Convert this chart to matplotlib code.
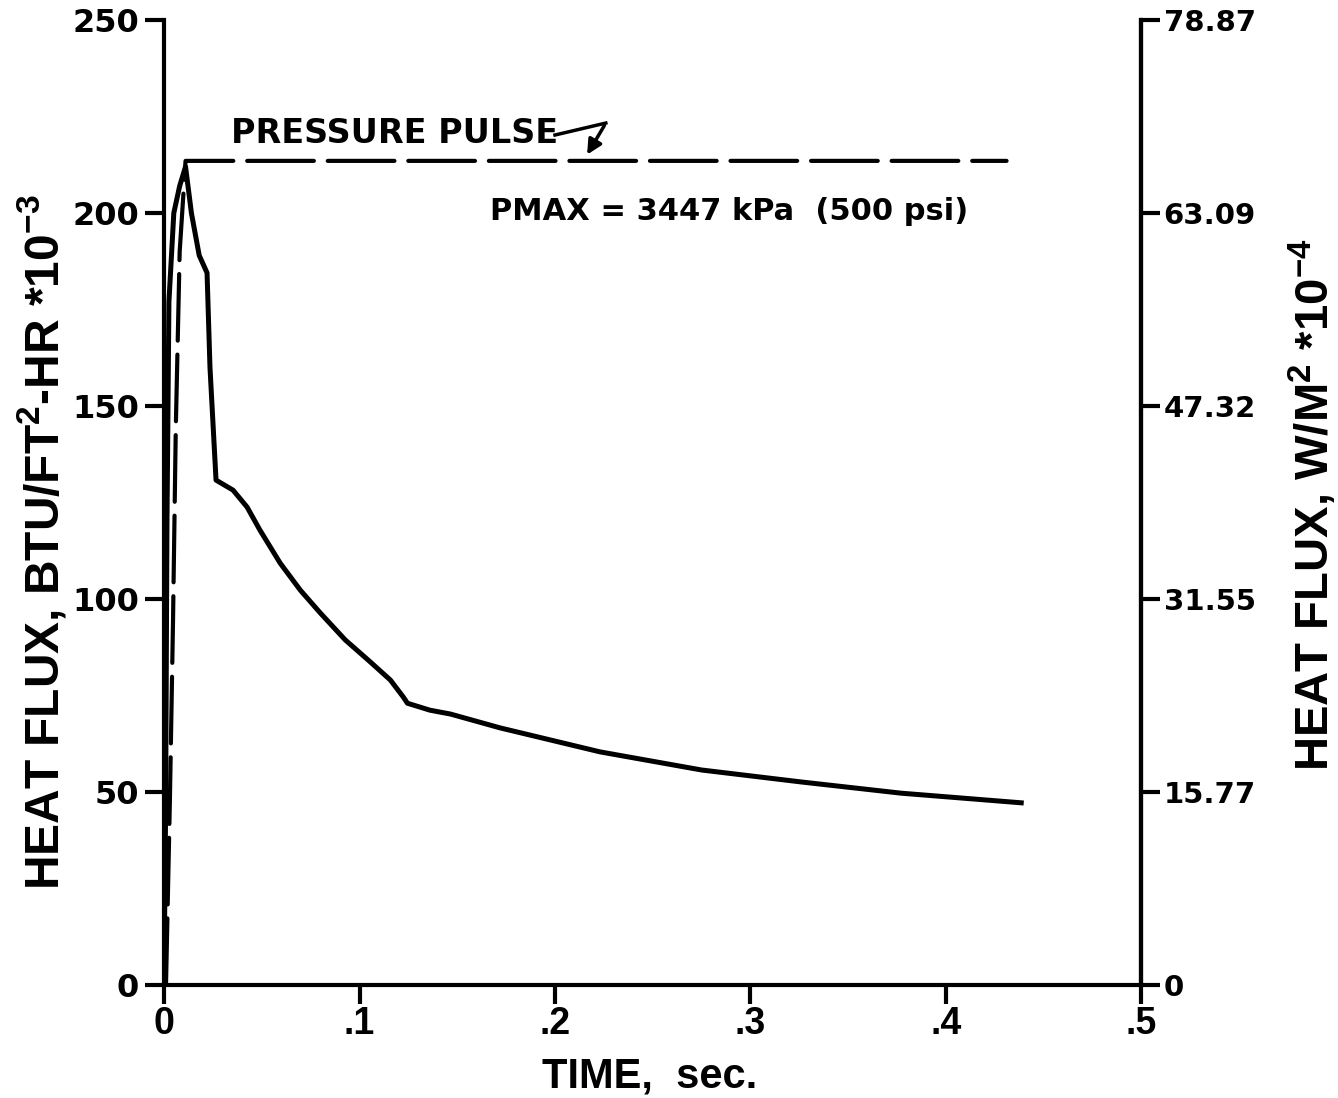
import matplotlib.pyplot as plt
import numpy as np

plt.rcParams['font.family'] = ['DejaVu Sans']
plt.rcParams['font.weight'] = 'bold'
plt.rcParams['mathtext.fontset'] = 'custom'
plt.rcParams['mathtext.rm'] = 'Liberation Sans:bold'
plt.rcParams['mathtext.bf'] = 'Liberation Sans:bold'
plt.rcParams['mathtext.it'] = 'Liberation Sans:bold'
plt.rcParams['lines.scale_dashes'] = False

# heat flux curve, BTU/FT2-HR *10^-3
t_flux = [0.0, 0.0008, 0.0015, 0.0025, 0.005, 0.008, 0.011, 0.014, 0.018, 0.022,
          0.0235, 0.0266, 0.0353, 0.0425, 0.049, 0.0594, 0.0697, 0.0799, 0.0927,
          0.1055, 0.1158, 0.1224, 0.1245, 0.136, 0.1465, 0.172, 0.223, 0.275,
          0.326, 0.377, 0.4385]
flux = [0, 45, 120, 177, 200, 207, 212, 200, 189, 184.5,
        160, 130.8, 128.2, 123.8, 117.9, 109.3, 102.3, 96.4, 89.4,
        83.7, 79, 74.6, 73, 71.2, 70.2, 66.6, 60.4, 55.7,
        52.6, 49.7, 47.2]

# pressure pulse trace (same scale)
t_press = [0.001, 0.003, 0.0046, 0.006, 0.008, 0.011, 0.431]
press = [0, 48, 94.5, 144, 190, 213.5, 213.5]

yticks = [0, 50, 100, 150, 200, 250]
yticklabels = ['0', '50', '100', '150', '200', '250']
right_labels = ['0', '15.77', '31.55', '47.32', '63.09', '78.87']
xticks = [0, 0.1, 0.2, 0.3, 0.4, 0.5]
xticklabels = ['0', '.1', '.2', '.3', '.4', '.5']

fig = plt.figure(figsize=(13.38, 10.98), dpi=100)
ax = fig.add_axes([0.1226, 0.1029, 0.7305, 0.8789])

ax.plot(t_flux, flux, color='black', lw=3.6, solid_joinstyle='round')
ax.plot(t_press, press, color='black', lw=3.0, dashes=(48, 10), dash_capstyle='round')

ax.set_xlim(0, 0.5)
ax.set_ylim(0, 250)
ax.spines['top'].set_visible(False)
for s in ['left', 'bottom', 'right']:
    ax.spines[s].set_linewidth(3)
ax.set_xticks(xticks)
ax.set_xticklabels(xticklabels, fontfamily='Liberation Sans', fontsize=27)
ax.set_yticks(yticks)
ax.set_yticklabels(yticklabels)
ax.tick_params(axis='both', direction='out', length=14, width=3, labelsize=23, pad=4)
ax.tick_params(axis='x', pad=1, labelsize=27)

ax2 = ax.twinx()
ax2.set_ylim(0, 250)
ax2.set_yticks(yticks)
ax2.set_yticklabels(right_labels)
ax2.spines['top'].set_visible(False)
ax2.spines['right'].set_linewidth(3)
ax2.tick_params(axis='y', direction='out', length=14, width=3, labelsize=21, pad=2)

lab = dict(fontfamily='Liberation Sans', fontweight='bold', ha='center', va='center')
fig.text(650 / 1338, 1 - 1076 / 1098, 'TIME,  sec.', fontsize=30, **lab)
fig.text(42 / 1338, 1 - 542 / 1098, r'HEAT FLUX, BTU/FT$^{2}$-HR *10$^{-3}$',
         fontsize=34.5, rotation=90, **lab)
fig.text(1313 / 1338, 1 - 505 / 1098, r'HEAT FLUX, W/M$^{2}$ *10$^{-4}$',
         fontsize=34, rotation=90, **lab)

ax.text(0.034, 220.7, 'PRESSURE PULSE', fontsize=24, fontweight='bold', va='center')
ax.text(0.167, 200.3, 'PMAX = 3447 kPa  (500 psi)', fontsize=22, fontweight='bold', va='center')
# zig-zag arrow pointing at the dashed line
ax.plot([0.2, 0.226], [220.2, 223.3], color='black', lw=2.5)
ax.annotate('', xy=(0.2157, 214.5), xytext=(0.226, 223.3),
            arrowprops=dict(arrowstyle='-|>', color='black', lw=2.5, mutation_scale=22))

fig.savefig('out.png', dpi=100)
